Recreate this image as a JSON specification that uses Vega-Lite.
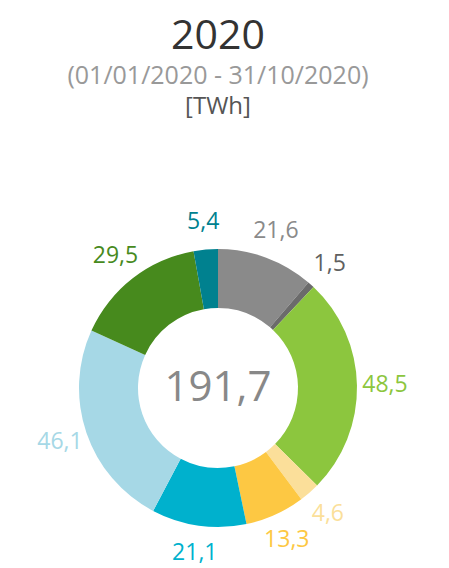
{
  "$schema": "https://vega.github.io/schema/vega-lite/v6.json",
  "background": "white",
  "padding": {"top": 15, "left": 5, "right": 5, "bottom": 5},
  "title": {
    "text": "2020",
    "subtitle": "(01/01/2020 - 31/10/2020)",
    "anchor": "middle",
    "font": "Open Sans",
    "fontSize": 41,
    "fontWeight": "normal",
    "color": "#333333",
    "subtitleFont": "Open Sans",
    "subtitleFontSize": 25,
    "subtitleColor": "#999999",
    "subtitlePadding": 6,
    "offset": 5
  },
  "data": {
    "values": [
      {"k": 1, "name": "S1", "value": 21.6, "label": "21,6"},
      {"k": 2, "name": "S2", "value": 1.5, "label": "1,5"},
      {"k": 3, "name": "S3", "value": 48.5, "label": "48,5"},
      {"k": 4, "name": "S4", "value": 4.6, "label": "4,6"},
      {"k": 5, "name": "S5", "value": 13.3, "label": "13,3"},
      {"k": 6, "name": "S6", "value": 21.1, "label": "21,1"},
      {"k": 7, "name": "S7", "value": 46.1, "label": "46,1"},
      {"k": 8, "name": "S8", "value": 29.5, "label": "29,5"},
      {"k": 9, "name": "S9", "value": 5.4, "label": "5,4"}
    ]
  },
  "vconcat": [
    {
      "width": 426,
      "height": 274,
      "title": {
        "text": "[TWh]",
        "font": "Open Sans",
        "fontSize": 24,
        "fontWeight": "normal",
        "color": "#555555",
        "anchor": "middle",
        "offset": 92
      },
      "layer": [
        {
          "mark": {"type": "arc", "innerRadius": 80, "outerRadius": 139},
          "encoding": {
            "theta": {"field": "value", "type": "quantitative", "stack": true},
            "order": {"field": "k", "type": "quantitative"},
            "color": {
              "field": "name",
              "type": "nominal",
              "legend": null,
              "scale": {
                "domain": ["S1", "S2", "S3", "S4", "S5", "S6", "S7", "S8", "S9"],
                "range": ["#8a8a8a", "#6b6b6b", "#8cc63e", "#fbdf9a", "#fdc843", "#00b1cd", "#a6d8e6", "#478a1d", "#00818f"]
              }
            }
          }
        },
        {
          "mark": {"type": "text", "radius": 167, "font": "Open Sans", "fontSize": 23},
          "encoding": {
            "theta": {"field": "value", "type": "quantitative", "stack": true},
            "order": {"field": "k", "type": "quantitative"},
            "text": {"field": "label", "type": "nominal"},
            "color": {
              "field": "name",
              "type": "nominal",
              "legend": null,
              "scale": {
                "domain": ["S1", "S2", "S3", "S4", "S5", "S6", "S7", "S8", "S9"],
                "range": ["#8a8a8a", "#606060", "#8cc63e", "#fbdf9a", "#fdc843", "#00b1cd", "#a6d8e6", "#478a1d", "#00818f"]
              }
            }
          }
        },
        {
          "data": {"values": [{"total": "191,7"}]},
          "mark": {"type": "text", "font": "Open Sans", "fontSize": 42, "color": "#888888"},
          "encoding": {"text": {"field": "total", "type": "nominal"}}
        }
      ],
      "resolve": {"scale": {"color": "independent"}}
    }
  ],
  "config": {"view": {"stroke": null}}
}
